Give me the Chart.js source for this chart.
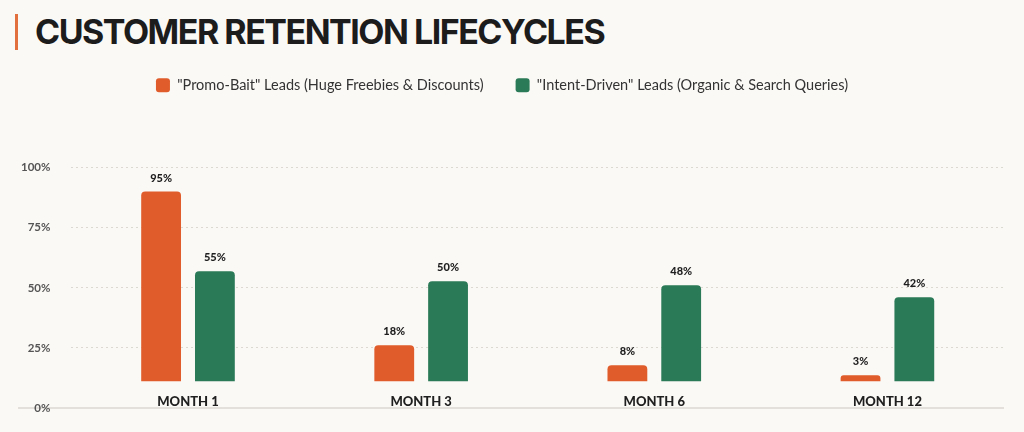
<!DOCTYPE html>
<html>
<head>
<meta charset="utf-8">
<script src="https://cdn.jsdelivr.net/npm/chart.js@4/dist/chart.umd.min.js"></script>
<style>
  html, body { margin: 0; padding: 0; background: #fbf9f6; }
  #wrap { position: relative; width: 1024px; height: 432px; overflow: hidden; }
  h1 {
    position: absolute; left: 15px; top: 14px; margin: 0;
    padding-left: 17px; border-left: 3px solid #e2703f;
    font-family: Inter, sans-serif; font-weight: 700; font-size: 34px;
    letter-spacing: -1.5px; line-height: 36px; color: #1c1c1c;
  }
  canvas { position: absolute; left: 0; top: 4px; }
</style>
</head>
<body>
<div id="wrap">
  <h1>CUSTOMER RETENTION LIFECYCLES</h1>
  <canvas id="myChart" width="1024" height="432"></canvas>
</div>
<script>
const months = ['MONTH 1', 'MONTH 3', 'MONTH 6', 'MONTH 12']
const promoBait = [95, 18, 8, 3]
const intentDriven = [55, 50, 48, 42]
const seriesNames = ['"Promo-Bait" Leads (Huge Freebies & Discounts)', '"Intent-Driven" Leads (Organic & Search Queries)']
const tickStep = 25

const ORANGE = '#e05c2b'
const GREEN = '#2b7a57'
const BASELINE = '#e3e0db'

// push the plot down below the legend
const legendGap = {
  id: 'legendGap',
  beforeInit(chart) {
    const fit = chart.legend.fit
    chart.legend.fit = function () {
      fit.bind(chart.legend)()
      this.height += 65
    }
  }
}

// the 0% line runs on under the axis labels (drawn first so the label sits on top)
const baseline = {
  id: 'baseline',
  beforeDraw(chart) {
    const ctx = chart.ctx
    const y = chart.scales.y2.getPixelForValue(0)
    ctx.save()
    ctx.strokeStyle = BASELINE
    ctx.lineWidth = 2
    ctx.beginPath()
    ctx.moveTo(18, y)
    ctx.lineTo(chart.chartArea.right, y)
    ctx.stroke()
    ctx.restore()
  }
}

// value labels over the bars
const barLabels = {
  id: 'barLabels',
  afterDatasetsDraw(chart) {
    const ctx = chart.ctx
    ctx.save()
    ctx.font = '900 11px Lato, sans-serif'
    ctx.fillStyle = '#1f1f1f'
    ctx.textAlign = 'center'
    ctx.textBaseline = 'bottom'
    chart.data.datasets.forEach((ds, i) => {
      chart.getDatasetMeta(i).data.forEach((bar, j) => {
        ctx.fillText(ds.data[j] + '%', bar.x, bar.y - 8)
      })
    })
    ctx.restore()
  }
}

new Chart(document.getElementById('myChart'), {
  type: 'bar',
  data: {
    labels: months,
    datasets: [
      { label: seriesNames[0], data: promoBait, backgroundColor: ORANGE, yAxisID: 'y' },
      { label: seriesNames[1], data: intentDriven, backgroundColor: GREEN, yAxisID: 'y' }
    ]
  },
  options: {
    responsive: false,
    animation: false,
    devicePixelRatio: 1,
    layout: { padding: { top: 42, left: 0, right: 20, bottom: 16 } },
    datasets: {
      bar: {
        categoryPercentage: 0.4615,
        barPercentage: 0.74,
        borderRadius: { topLeft: 4, topRight: 4 },
        borderSkipped: 'start'
      }
    },
    plugins: {
      legend: {
        labels: {
          boxWidth: 14,
          boxHeight: 14,
          useBorderRadius: true,
          borderRadius: 3,
          padding: 32,
          color: '#333333',
          font: { family: 'Lato, sans-serif', size: 14.5 }
        }
      },
      tooltip: { enabled: false }
    },
    scales: {
      x: {
        grid: { display: false },
        border: { display: false },
        ticks: {
          padding: -22,
          color: '#1f1f1f',
          font: { family: 'Lato, sans-serif', size: 13, weight: 900 }
        }
      },
      y: {
        display: false,
        min: -13.5,
        max: 107
      },
      y2: {
        position: 'left',
        min: 0,
        max: 100,
        border: {
          display: false,
          dash: ctx => (ctx.tick && ctx.tick.value === 0 ? [] : [2, 3])
        },
        grid: {
          color: ctx => (ctx.tick && ctx.tick.value === 0 ? BASELINE : '#dcd9d3'),
          lineWidth: ctx => (ctx.tick && ctx.tick.value === 0 ? 2 : 1),
          drawTicks: false
        },
        ticks: {
          stepSize: tickStep,
          padding: 21,
          color: '#555555',
          font: { family: 'Lato, sans-serif', size: 11.5, weight: 'bold' },
          callback: v => v + '%'
        }
      }
    }
  },
  plugins: [legendGap, baseline, barLabels]
})
</script>
</body>
</html>
